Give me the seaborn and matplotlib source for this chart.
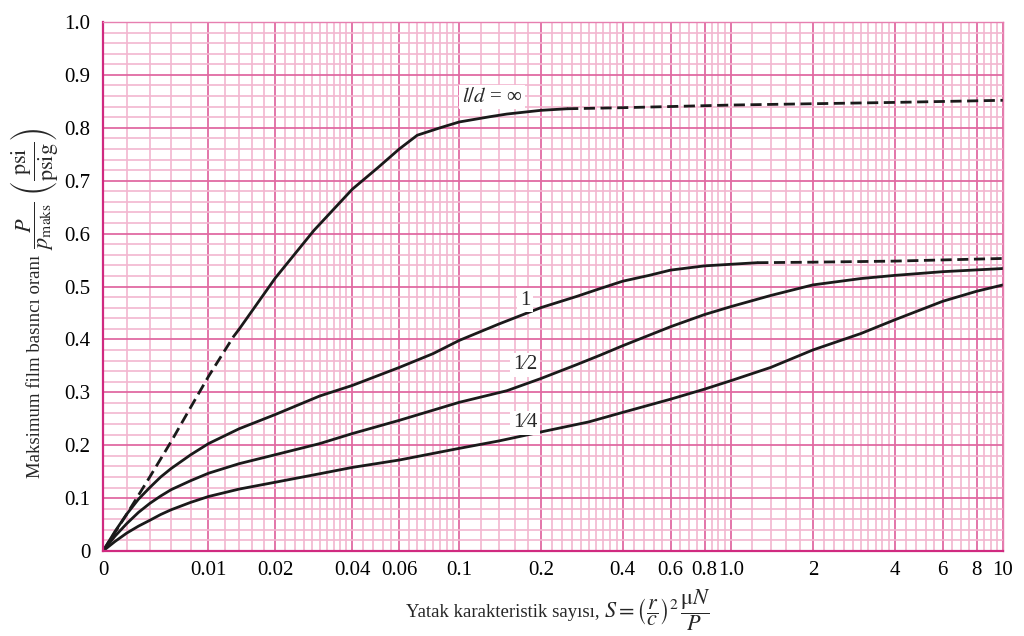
import numpy as np
import pandas as pd
import seaborn as sns
import matplotlib.pyplot as plt
from matplotlib.ticker import FixedLocator, FixedFormatter

# Eksen degerleri
x_ticks = [0, 0.01, 0.02, 0.04, 0.06, 0.1, 0.2, 0.4, 0.6, 0.8, 1.0, 2, 4, 6, 8, 10]
x_labels = ["0", "0.01", "0.02", "0.04", "0.06", "0.1", "0.2", "0.4", "0.6",
            "0.8", "1.0", "2", "4", "6", "8", "10"]
y_ticks = [0, 0.1, 0.2, 0.3, 0.4, 0.5, 0.6, 0.7, 0.8, 0.9, 1.0]
y_labels = ["0", "0.1", "0.2", "0.3", "0.4", "0.5", "0.6", "0.7", "0.8", "0.9", "1.0"]

# l/d = sonsuz
inf_dash_lo_S = [0, 0.002, 0.004, 0.006, 0.008, 0.01, 0.0132, 0.014]
inf_dash_lo_P = [0, 0.07, 0.14, 0.207, 0.272, 0.33, 0.405, 0.419]
inf_solid_S = [0.014, 0.02, 0.0285, 0.04, 0.05, 0.06, 0.07, 0.085, 0.1, 0.13, 0.15, 0.2, 0.25]
inf_solid_P = [0.419, 0.516, 0.606, 0.684, 0.725, 0.76, 0.786, 0.80, 0.811, 0.821, 0.826,
               0.833, 0.836]
inf_dash_hi_S = [0.25, 0.4, 1.0, 4, 10]
inf_dash_hi_P = [0.836, 0.838, 0.843, 0.848, 0.852]

# l/d = 1
one_solid_S = [0, 0.001, 0.002, 0.003, 0.004, 0.005, 0.006, 0.008, 0.01, 0.014, 0.02, 0.03,
               0.04, 0.06, 0.08, 0.1, 0.14, 0.2, 0.27, 0.33, 0.4, 0.5, 0.6, 0.8, 1.0, 1.25]
one_solid_P = [0, 0.037, 0.07, 0.098, 0.12, 0.14, 0.156, 0.182, 0.203, 0.231, 0.258, 0.293,
               0.313, 0.347, 0.373, 0.398, 0.429, 0.46, 0.481, 0.496, 0.51, 0.521, 0.531,
               0.539, 0.542, 0.545]
one_dash_S = [1.25, 2, 4, 10]
one_dash_P = [0.545, 0.546, 0.548, 0.553]

# l/d = 1/2
half_S = [0, 0.001, 0.002, 0.003, 0.004, 0.005, 0.006, 0.008, 0.01, 0.014, 0.02, 0.03, 0.04,
          0.06, 0.1, 0.15, 0.2, 0.27, 0.33, 0.4, 0.6, 0.8, 1.0, 1.4, 2, 3, 4, 6, 10]
half_P = [0, 0.028, 0.052, 0.073, 0.09, 0.104, 0.116, 0.133, 0.147, 0.165, 0.182, 0.203, 0.222,
          0.247, 0.281, 0.303, 0.326, 0.352, 0.37, 0.388, 0.424, 0.447, 0.462, 0.483, 0.503,
          0.515, 0.521, 0.528, 0.534]

# l/d = 1/4
quarter_S = [0, 0.001, 0.002, 0.003, 0.004, 0.005, 0.006, 0.008, 0.01, 0.014, 0.02, 0.03,
             0.04, 0.06, 0.1, 0.14, 0.2, 0.3, 0.4, 0.6, 0.8, 1.0, 1.4, 2, 3, 4, 6, 8, 10]
quarter_P = [0, 0.018, 0.034, 0.047, 0.058, 0.069, 0.078, 0.092, 0.103, 0.117, 0.13, 0.146,
             0.158, 0.172, 0.194, 0.208, 0.225, 0.244, 0.262, 0.287, 0.306, 0.322, 0.347,
             0.38, 0.411, 0.437, 0.472, 0.491, 0.503]

# Egri etiketleri
label_texts = [r"$l/d$ = ∞", "1", "1⁄2", "1⁄4"]
label_S = [0.132, 0.175, 0.175, 0.175]
label_P = [0.858, 0.474, 0.352, 0.242]

# Eksen basliklari (metin + formul)
xlabel_text = "Yatak karakteristik sayısı,"
xlabel_math = r"$S = \genfrac{(}{)}{0.8}{0}{r}{c}^{2}\,\dfrac{\mathrm{\mu} N}{P}$"
ylabel_text = "Maksimum film basıncı oranı"
ylabel_math = r"$\dfrac{P}{p_{\mathrm{maks}}}\ \left(\dfrac{\mathrm{psi}}{\mathrm{psig}}\right)$"

sns.set_style("white")
plt.rcParams['font.family'] = ['Liberation Serif', 'DejaVu Serif']
plt.rcParams['mathtext.fontset'] = 'stix'

fig = plt.figure(figsize=(10.24, 6.36), dpi=100)
ax = fig.add_axes([103 / 1024, 85 / 636, 900 / 1024, 529 / 636])

ax.set_xscale('asinh', linear_width=0.00984)
ax.set_xlim(0, 10)
ax.set_ylim(0, 1.0)

# Izgara (grafik kagidi)
minor_x = []
for d in [0.01, 0.1, 1.0]:
    minor_x += list(d * np.arange(1.2, 2.0, 0.2))
    minor_x += list(d * np.arange(2.2, 4.0, 0.2))
    minor_x += list(d * np.arange(4.4, 6.0, 0.4))
    minor_x += list(d * np.arange(6.5, 10.0, 0.5))
minor_x += [0.002, 0.004, 0.006, 0.008]
minor_x = [v for v in minor_x if not np.any(np.isclose(v, x_ticks))]
minor_y = [v for v in np.arange(0, 1.0001, 0.02) if not np.any(np.isclose(v, y_ticks))]

ax.xaxis.set_major_locator(FixedLocator(x_ticks))
ax.xaxis.set_major_formatter(FixedFormatter(x_labels))
ax.xaxis.set_minor_locator(FixedLocator(minor_x))
ax.xaxis.set_minor_formatter(FixedFormatter([""] * len(minor_x)))
ax.yaxis.set_major_locator(FixedLocator(y_ticks))
ax.yaxis.set_major_formatter(FixedFormatter(y_labels))
ax.yaxis.set_minor_locator(FixedLocator(minor_y))

ax.grid(which='minor', color='#f2b6d0', linewidth=1.2)
ax.grid(which='major', color='#e06aa2', linewidth=1.3)
ax.set_axisbelow(True)
ax.tick_params(which='both', length=0, labelsize=15, colors='black')
ax.tick_params(axis='x', pad=7)
ax.tick_params(axis='y', pad=9)

for side in ['left', 'bottom']:
    ax.spines[side].set_color('#d02a80')
    ax.spines[side].set_linewidth(1.6)
for side in ['top', 'right']:
    ax.spines[side].set_color('#e67fb0')
    ax.spines[side].set_linewidth(1.0)

# Egriler
series = [
    (inf_dash_lo_S, inf_dash_lo_P, (0, (4, 2))),
    (inf_solid_S, inf_solid_P, '-'),
    (inf_dash_hi_S, inf_dash_hi_P, (0, (4, 2))),
    (one_solid_S, one_solid_P, '-'),
    (one_dash_S, one_dash_P, (0, (4, 2))),
    (half_S, half_P, '-'),
    (quarter_S, quarter_P, '-'),
]
for S, P, ls in series:
    d = pd.DataFrame({'S': S, 'P': P})
    sns.lineplot(data=d, x='S', y='P', ax=ax, color='#1a1a1a', linewidth=2.0,
                 linestyle=ls, sort=False, estimator=None, solid_capstyle='round',
                 solid_joinstyle='round')

for t, s, p in zip(label_texts, label_S, label_P):
    ax.text(s, p, t, fontsize=15, ha='center', va='center',
            bbox=dict(facecolor='white', edgecolor='none', pad=2))

ax.set_xlabel("")
ax.set_ylabel("")

# x ekseni basligi
fig.text(600 / 1024, 19 / 636, xlabel_text, fontsize=13.5, ha='right', va='baseline')
fig.text(604 / 1024, 19 / 636, xlabel_math, fontsize=16, ha='left', va='baseline')

# y ekseni basligi
fig.text(40 / 1024, 158 / 636, ylabel_text, fontsize=13.5, rotation=90,
         rotation_mode='anchor', ha='left', va='baseline')
fig.text(39 / 1024, 386 / 636, ylabel_math, fontsize=16, rotation=90,
         rotation_mode='anchor', ha='left', va='baseline')

fig.savefig('out.png', dpi=100)
